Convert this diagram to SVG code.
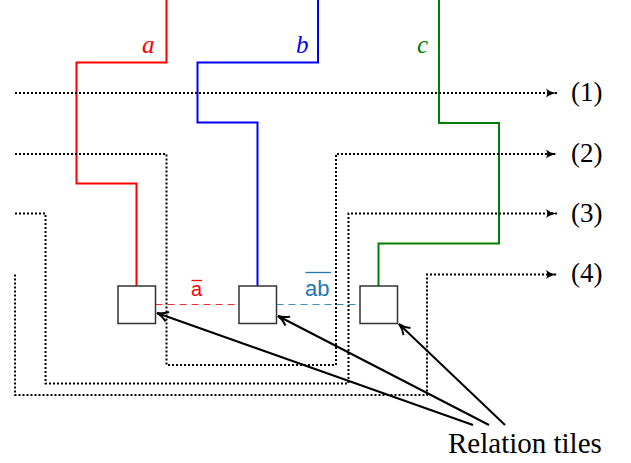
<svg xmlns="http://www.w3.org/2000/svg" width="631" height="463" viewBox="0 0 631 463">
<style>
.wire{fill:none;stroke-width:2;stroke-linejoin:miter}
.dot{fill:none;stroke:#000;stroke-width:2;stroke-dasharray:2 2}
.tile{fill:#fff;stroke:#333;stroke-width:1.5}
.ptr{fill:none;stroke:#000;stroke-width:2}
.serif{font-family:"Liberation Serif","Times New Roman",serif}
.sans{font-family:"Liberation Sans",Arial,sans-serif}
</style>
<defs>
<marker id="ah" viewBox="0 0 12 10" refX="11" refY="5" markerWidth="12" markerHeight="10" markerUnits="userSpaceOnUse" orient="auto">
<path d="M0,0.5 Q4,4 11,5 Q4,6 0,9.5 Q2.5,5 0,0.5 z" fill="#000"/>
</marker>
<marker id="ah2" viewBox="0 0 14 12" refX="12" refY="6" markerWidth="14" markerHeight="12" markerUnits="userSpaceOnUse" orient="auto">
<path d="M1,1 Q6,5 12,6 Q6,7 1,11" fill="none" stroke="#000" stroke-width="2"/>
</marker>
</defs>
<g id="connectors">
<path class="wire" stroke="#ff0000" d="M166.5,0 V62.5 H76.5 V183.5 H136.5 V286"/>
<path class="wire" stroke="#0000ff" d="M318,0 V62.5 H197.5 V122.5 H257.5 V286"/>
<path class="wire" stroke="#008000" d="M439,0 V123 H499 V243.5 H378.5 V286"/>
<path class="dot" d="M15,93 H557" marker-end="url(#ah)"/>
<path class="dot" d="M15,154 H166.5 V365 H336 V154 H557" marker-end="url(#ah)"/>
<path class="dot" d="M15,213.5 H45.5 V383.5 H348.5 V213.5 H557" marker-end="url(#ah)"/>
<path class="dot" d="M15,274.5 V395 H427 V274.5 H557" marker-end="url(#ah)"/>
<line x1="155.5" y1="304.5" x2="239" y2="304.5" stroke="#ff2a2a" stroke-width="1.2" stroke-dasharray="7 5"/>
<line x1="276.5" y1="304.5" x2="360" y2="304.5" stroke="#3a8fc0" stroke-width="1.2" stroke-dasharray="7 5"/>
<line class="ptr" x1="473" y1="425" x2="157" y2="313" marker-end="url(#ah2)"/>
<line class="ptr" x1="489" y1="425" x2="278" y2="316" marker-end="url(#ah2)"/>
<line class="ptr" x1="505" y1="425" x2="399" y2="324" marker-end="url(#ah2)"/>
</g>
<g id="tile1"><rect class="tile" x="118" y="286" width="37.5" height="37.5"/></g>
<g id="tile2"><rect class="tile" x="239" y="286" width="37.5" height="37.5"/></g>
<g id="tile3"><rect class="tile" x="360" y="286" width="37.5" height="37.5"/></g>
<g id="labels">
<text class="serif" x="142" y="52.5" font-size="25" font-style="italic" fill="#ff0000">a</text>
<text class="serif" x="296" y="52.5" font-size="25" font-style="italic" fill="#0000ff">b</text>
<text class="serif" x="417" y="52.5" font-size="25" font-style="italic" fill="#008000">c</text>
<g id="abar">
<text class="sans" x="191" y="295.5" font-size="20" fill="#ff0000">a</text>
<line x1="191.5" y1="280.5" x2="202" y2="280.5" stroke="#ff0000" stroke-width="1.3"/>
</g>
<g id="abbar">
<text class="sans" x="305" y="296" font-size="22" fill="#1f77b4">ab</text>
<line x1="305.5" y1="272.5" x2="331" y2="272.5" stroke="#1f77b4" stroke-width="1.3"/>
</g>
<text class="serif" x="571" y="100.5" font-size="27" fill="#000">(1)</text>
<text class="serif" x="571" y="161.5" font-size="27" fill="#000">(2)</text>
<text class="serif" x="571" y="221.5" font-size="27" fill="#000">(3)</text>
<text class="serif" x="571" y="282" font-size="27" fill="#000">(4)</text>
<text class="serif" x="448" y="453" font-size="29" fill="#000">Relation tiles</text>
</g>
</svg>
